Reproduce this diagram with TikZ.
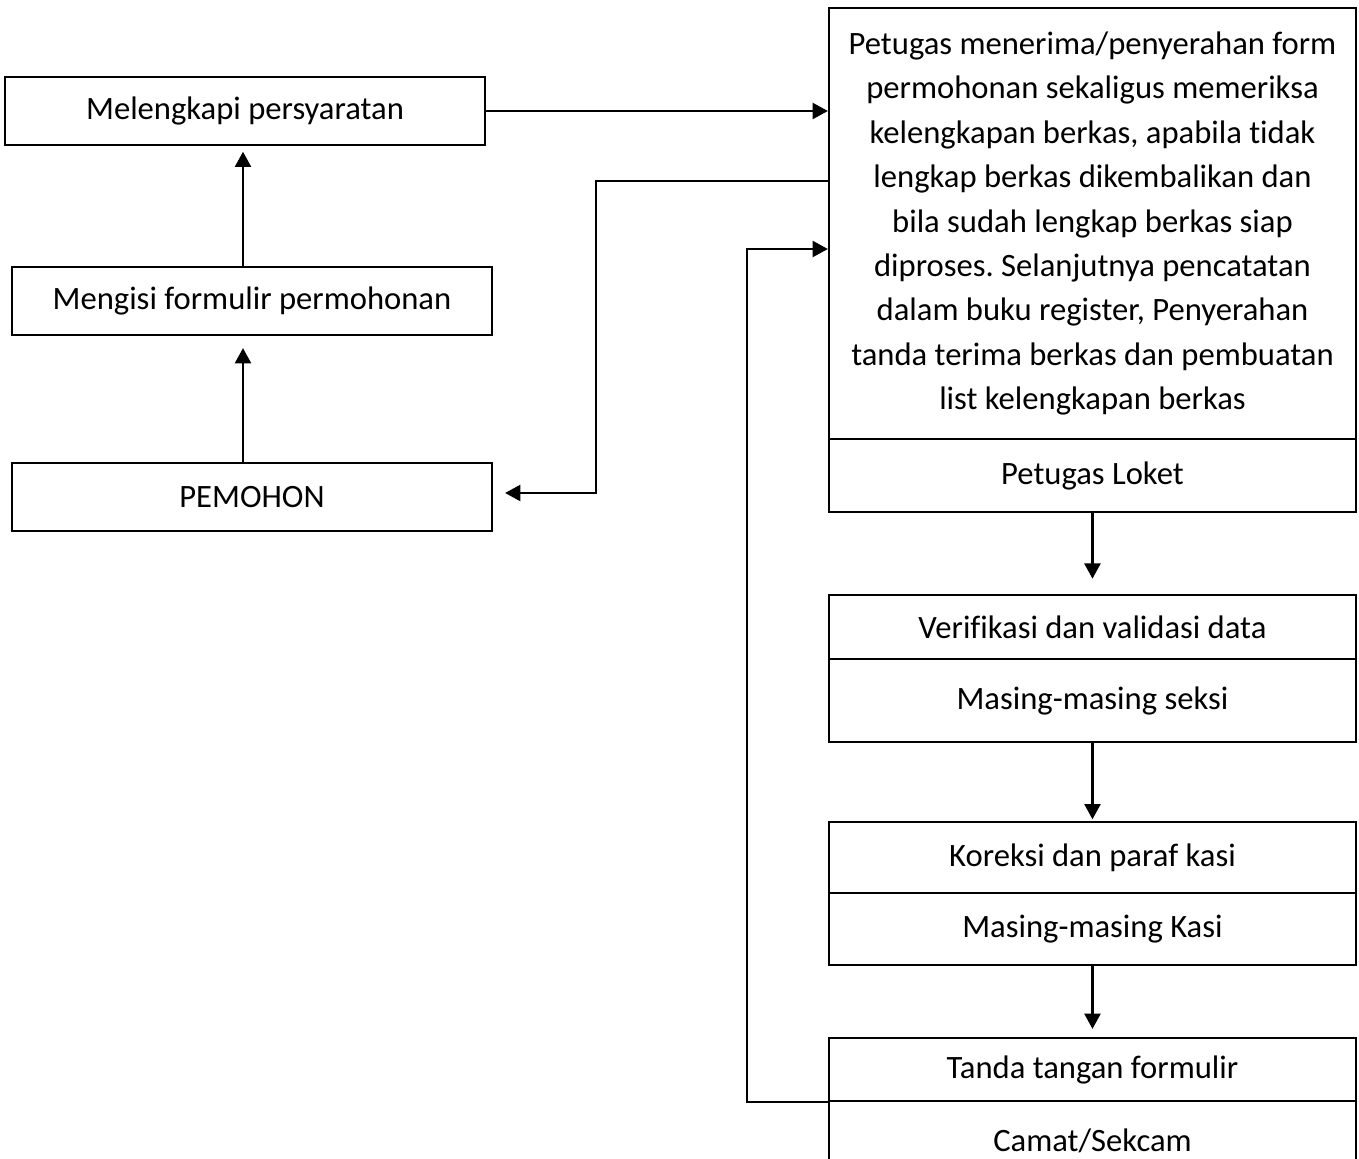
\documentclass[tikz,border=0pt]{standalone}
\usepackage{fontspec}
\setmainfont{Carlito}[Ligatures=NoCommon]
\frenchspacing
\usetikzlibrary{arrows.meta}

\tikzset{
  kotak/.style={draw, line width=0.8pt, inner sep=0pt, minimum width=6cm, minimum height=0.85cm,
    align=center, font=\fontsize{11.6}{15.8}\selectfont},
  kanan/.style={kotak, minimum width=6.5875cm},
  panah/.style={line width=0.8pt, -{Triangle[length=0.19cm,width=0.2cm]}},
  garis/.style={line width=0.8pt}
}

\begin{document}
\begin{tikzpicture}
\useasboundingbox (0,0) rectangle (16.9875,-14.4875);
\clip (0,0) rectangle (16.9875,-14.4875);
% kolom kiri
\node[kotak] (lengkap) at (3.0625,-1.3875) {Melengkapi persyaratan};
\node[kotak] (isi) at (3.15,-3.7625) {Mengisi formulir permohonan};
\node[kotak] (pemohon) at (3.15,-6.2125) {PEMOHON};
% kolom kanan
\node[kanan, minimum height=5.3875cm] (terima) at (13.656,-2.794) {Petugas menerima/penyerahan form\\
permohonan sekaligus memeriksa\\ kelengkapan berkas, apabila tidak\\
lengkap berkas dikembalikan dan\\ bila sudah lengkap berkas siap\\
diproses. Selanjutnya pencatatan\\ dalam buku register, Penyerahan\\
tanda terima berkas dan pembuatan\\ list kelengkapan berkas};
\node[kanan, minimum height=0.9125cm] (loket) at (13.656,-5.944) {Petugas Loket};
\node[kanan, minimum height=0.8cm] (verif) at (13.656,-7.8375) {Verifikasi dan validasi data};
\node[kanan, minimum height=1.0375cm] (seksi) at (13.656,-8.756) {Masing-masing seksi};
\node[kanan, minimum height=0.8875cm] (koreksi) at (13.656,-10.71875) {Koreksi dan paraf kasi};
\node[kanan, minimum height=0.9cm] (kasi) at (13.656,-11.6125) {Masing-masing Kasi};
\node[kanan, minimum height=0.7875cm] (ttd) at (13.656,-13.369) {Tanda tangan formulir};
\node[kanan, minimum height=1cm] (camat) at (13.656,-14.2625) {Camat/Sekcam};
% panah
\draw[panah] (pemohon.north -| 3.0375,0) -- ([yshift=-0.15cm]isi.south -| 3.0375,0);
\draw[panah] (isi.north -| 3.0375,0) -- ([yshift=-0.07cm]lengkap.south -| 3.0375,0);
\draw[panah] (lengkap.east) -- (lengkap.east -| terima.west);
\coordinate (k1) at (7.45,-2.2625);
\draw[panah] (k1 -| terima.west) -- (k1) |- ([xshift=0.15cm,yshift=0.05cm]pemohon.east);
\coordinate (k2) at (9.3375,-3.1125);
\draw[panah] (ttd.south west) -| (k2) -- (k2 -| terima.west);
\draw[panah] (loket.south) -- ([yshift=0.19cm]verif.north);
\draw[panah] (seksi.south) -- ([yshift=0.02cm]koreksi.north);
\draw[panah] (kasi.south) -- ([yshift=0.1cm]ttd.north);
\end{tikzpicture}
\end{document}
